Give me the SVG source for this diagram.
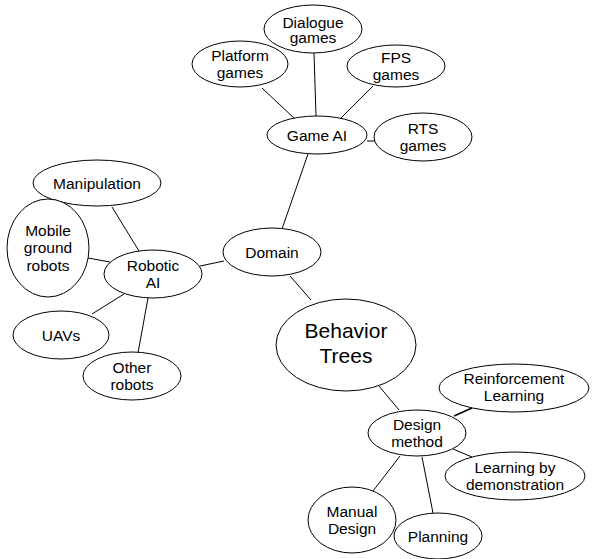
<svg xmlns="http://www.w3.org/2000/svg" width="593" height="559" viewBox="0 0 593 559">
<style>
ellipse{fill:#fff;stroke:#000;stroke-width:1}
line{stroke:#000;stroke-width:1}
text{font-family:"Liberation Sans",Arial,sans-serif;font-size:15.5px;fill:#000;text-anchor:middle}
.big{font-size:21px}
</style>
<rect width="593" height="559" fill="#fff"/>
<g id="connectors">
<line x1="262" y1="88" x2="295" y2="119"/>
<line x1="314" y1="53" x2="316" y2="116"/>
<line x1="373" y1="86" x2="340" y2="119"/>
<line x1="367" y1="141" x2="375" y2="141"/>
<line x1="308" y1="154" x2="282" y2="229"/>
<line x1="112" y1="207" x2="139" y2="251"/>
<line x1="88" y1="258" x2="110" y2="262"/>
<line x1="200" y1="266" x2="224" y2="261"/>
<line x1="92" y1="314" x2="124" y2="294"/>
<line x1="138" y1="353" x2="148" y2="298"/>
<line x1="290" y1="276" x2="311" y2="300"/>
<line x1="379" y1="386" x2="399" y2="410"/>
<line x1="472" y1="408" x2="454" y2="416" style="stroke-width:1.5"/>
<line x1="453" y1="449" x2="472" y2="457"/>
<line x1="400" y1="456" x2="373" y2="491"/>
<line x1="422" y1="457" x2="433" y2="513"/>
</g>
<g id="dialogue"><ellipse cx="313" cy="29" rx="49" ry="24"/><text x="313" y="27.5">Dialogue</text><text x="313" y="43">games</text></g>
<g id="platform"><ellipse cx="240" cy="64" rx="48" ry="23"/><text x="240" y="61">Platform</text><text x="240" y="78">games</text></g>
<g id="fps"><ellipse cx="396" cy="66" rx="49" ry="21"/><text x="396" y="63">FPS</text><text x="396" y="80">games</text></g>
<g id="gameai"><ellipse cx="317" cy="135" rx="50" ry="19"/><text x="317" y="140.5">Game AI</text></g>
<g id="rts"><ellipse cx="423" cy="137" rx="49" ry="24"/><text x="423" y="134">RTS</text><text x="423" y="151">games</text></g>
<g id="manipulation"><ellipse cx="97" cy="183" rx="64" ry="23"/><text x="97" y="189">Manipulation</text></g>
<g id="mobile"><ellipse cx="48" cy="248" rx="41" ry="49"/><text x="48" y="236">Mobile</text><text x="48" y="253">ground</text><text x="48" y="271">robots</text></g>
<g id="robotic"><ellipse cx="153" cy="274" rx="49" ry="24"/><text x="153" y="271">Robotic</text><text x="153" y="288">AI</text></g>
<g id="domain"><ellipse cx="272" cy="252" rx="49" ry="24"/><text x="272" y="257.5">Domain</text></g>
<g id="uavs"><ellipse cx="61" cy="335" rx="48" ry="24"/><text x="61" y="340.5">UAVs</text></g>
<g id="other"><ellipse cx="132" cy="376" rx="49" ry="24"/><text x="132" y="373">Other</text><text x="132" y="390">robots</text></g>
<g id="bt"><ellipse cx="346" cy="345" rx="70" ry="46"/><text class="big" x="346" y="338">Behavior</text><text class="big" x="346" y="363">Trees</text></g>
<g id="rl"><ellipse cx="514" cy="388" rx="75" ry="24"/><text x="514" y="384">Reinforcement</text><text x="514" y="401">Learning</text></g>
<g id="design"><ellipse cx="417" cy="433" rx="49" ry="23"/><text x="417" y="430">Design</text><text x="417" y="447">method</text></g>
<g id="lbd"><ellipse cx="515" cy="476" rx="70" ry="24"/><text x="515" y="473">Learning by</text><text x="515" y="490">demonstration</text></g>
<g id="manual"><ellipse cx="352" cy="520" rx="44" ry="33"/><text x="352" y="517">Manual</text><text x="352" y="534">Design</text></g>
<g id="planning"><ellipse cx="438" cy="536" rx="44" ry="23"/><text x="438" y="541.5">Planning</text></g>
</svg>
